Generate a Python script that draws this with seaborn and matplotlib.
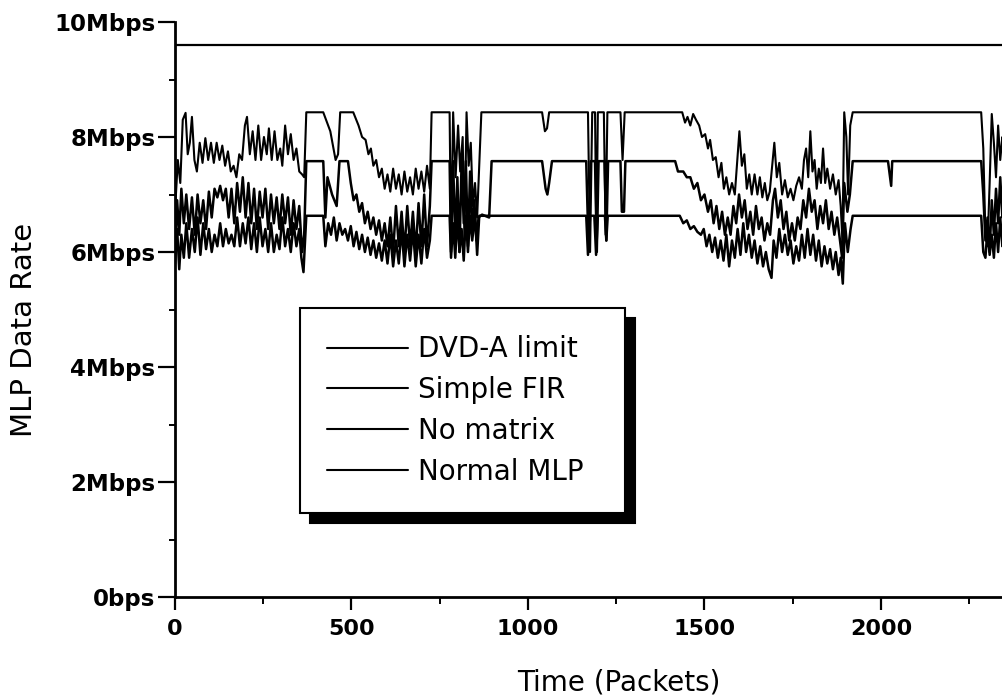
import matplotlib
matplotlib.use("Agg")
import matplotlib.pyplot as plt
import seaborn as sns
import pandas as pd
from matplotlib.ticker import MultipleLocator

# ---------------- data ----------------
dvd_limit = [(0, 9.6), (2352, 9.6)]

simple_fir = [
    (0, 6.7), (8, 7.6), (15, 7.2), (22, 8.3), (30, 8.42), (36, 7.7), (42, 7.9), (48, 8.35),
    (55, 7.6), (62, 7.4), (70, 7.9), (78, 7.55), (86, 7.98), (94, 7.6), (102, 7.9), (110, 7.55),
    (118, 7.9), (126, 7.6), (134, 7.85), (142, 7.5), (150, 7.75), (158, 7.4), (166, 7.5), (174, 7.3),
    (182, 7.7), (190, 7.6), (198, 8.2), (204, 8.35), (212, 7.7), (220, 8.1), (228, 7.6), (236, 8.2),
    (244, 7.6), (252, 8.0), (260, 7.7), (266, 8.15), (274, 7.6), (282, 8.1), (290, 7.6), (298, 7.8),
    (304, 7.5), (312, 8.2), (320, 7.7), (328, 8.05), (336, 7.6), (344, 7.8), (352, 7.4), (360, 7.35),
    (366, 7.3), (372, 8.43),
    (420, 8.43), (440, 8.1), (455, 7.6), (462, 7.7), (468, 8.43), (505, 8.43), (520, 8.2), (530, 8.0),
    (540, 7.95), (548, 7.7), (555, 7.8), (562, 7.5), (570, 7.6), (578, 7.3), (586, 7.45), (594, 7.1),
    (602, 7.35), (610, 7.05), (618, 7.45), (626, 7.1), (634, 7.35), (642, 7.0), (650, 7.4), (658, 7.05),
    (666, 7.3), (674, 7.0), (682, 7.45), (690, 7.1), (698, 7.4), (706, 7.05), (714, 7.5), (722, 7.1),
    (727, 8.43),
    (778, 8.43), (782, 6.1), (788, 8.43), (795, 7.3), (802, 8.2), (808, 7.4), (815, 8.0), (820, 6.2),
    (826, 8.43), (832, 7.5), (838, 7.9), (844, 6.8), (850, 7.2), (856, 6.6), (862, 7.5), (868, 8.43),
    (1040, 8.43), (1048, 8.1), (1054, 8.15), (1060, 8.43),
    (1170, 8.43), (1176, 6.0), (1182, 8.43), (1190, 8.43), (1194, 6.1), (1198, 8.43), (1215, 8.43),
    (1220, 6.3), (1225, 8.43), (1262, 8.43), (1268, 7.6), (1274, 8.43),
    (1437, 8.43), (1445, 8.25), (1452, 8.35), (1460, 8.2), (1468, 8.4), (1476, 8.3), (1485, 8.2),
    (1493, 8.0), (1502, 8.05), (1510, 7.8), (1516, 7.95), (1524, 7.6), (1532, 7.65), (1540, 7.3),
    (1548, 7.55), (1555, 7.1), (1562, 7.3), (1570, 7.0), (1578, 7.2), (1586, 7.0), (1593, 7.6),
    (1599, 8.1), (1606, 7.5), (1613, 7.7), (1620, 7.1), (1627, 7.35), (1634, 7.0), (1642, 7.35),
    (1650, 7.0), (1657, 7.3), (1664, 6.95), (1671, 7.2), (1678, 6.9), (1685, 7.05), (1692, 7.5),
    (1698, 7.9), (1705, 7.3), (1712, 7.55), (1720, 7.0), (1728, 7.25), (1736, 6.95), (1744, 7.1),
    (1752, 6.9), (1760, 7.15), (1768, 7.3), (1776, 7.1), (1782, 7.6), (1788, 7.8), (1794, 7.3),
    (1800, 8.1), (1806, 7.4), (1812, 7.6), (1818, 7.1), (1824, 7.45), (1830, 7.2), (1836, 7.8),
    (1842, 7.2), (1848, 7.45), (1856, 7.1), (1864, 7.35), (1872, 7.0), (1880, 7.25), (1886, 6.8),
    (1891, 6.2), (1896, 8.43), (1902, 8.0), (1907, 7.0), (1913, 8.2), (1920, 8.43),
    (2284, 8.43), (2290, 7.8), (2296, 6.3), (2302, 6.1), (2308, 7.2), (2314, 8.4), (2320, 7.9),
    (2326, 7.3), (2332, 8.2), (2338, 7.6), (2344, 8.0), (2352, 7.7),
]

no_matrix = [
    (0, 6.0), (6, 6.9), (12, 6.3), (18, 7.1), (25, 6.5), (32, 7.0), (40, 6.4), (48, 6.95),
    (56, 6.3), (64, 7.0), (72, 6.5), (80, 6.9), (88, 6.4), (96, 7.05), (104, 6.6), (112, 7.1),
    (120, 6.95), (128, 7.15), (136, 6.9), (144, 7.1), (152, 6.6), (160, 7.1), (168, 6.5), (176, 7.2),
    (184, 6.7), (192, 7.3), (200, 6.6), (208, 7.2), (216, 6.5), (224, 7.1), (232, 6.4), (240, 7.05),
    (248, 6.6), (256, 7.1), (264, 6.4), (272, 7.0), (280, 6.5), (288, 6.95), (296, 6.4), (304, 7.0),
    (312, 6.5), (320, 6.95), (328, 6.3), (336, 6.9), (344, 6.4), (352, 6.8), (360, 6.0), (366, 6.3),
    (372, 7.58),
    (420, 7.58), (426, 6.6), (432, 7.3), (445, 7.0), (458, 6.8), (466, 7.58), (490, 7.58), (498, 7.2),
    (506, 6.9), (514, 7.0), (522, 6.7), (530, 6.85), (538, 6.5), (546, 6.7), (554, 6.4), (562, 6.6),
    (570, 6.3), (578, 6.55), (586, 6.2), (594, 6.5), (602, 6.1), (610, 6.6), (618, 6.0), (626, 6.8),
    (634, 6.1), (642, 6.7), (650, 6.0), (658, 6.8), (666, 6.1), (674, 6.7), (682, 6.0), (690, 6.85),
    (698, 6.1), (706, 7.0), (714, 6.1), (722, 6.8), (727, 7.58),
    (778, 7.58), (782, 6.0), (788, 7.58), (794, 6.2), (800, 7.3), (806, 6.0), (812, 7.58), (818, 6.5),
    (824, 7.58), (830, 6.1), (836, 7.4), (842, 6.3), (848, 6.9), (854, 6.2), (860, 6.6), (870, 6.65),
    (890, 6.6), (897, 7.58),
    (1040, 7.58), (1050, 7.1), (1055, 7.0), (1060, 7.2), (1068, 7.58),
    (1165, 7.58), (1172, 6.0), (1178, 7.58), (1190, 7.58), (1195, 6.0), (1200, 7.58), (1217, 7.58),
    (1222, 6.2), (1227, 7.58), (1262, 7.58), (1266, 6.7), (1272, 6.7), (1276, 7.58),
    (1417, 7.58), (1425, 7.4), (1440, 7.4), (1450, 7.3), (1460, 7.3), (1470, 7.1), (1480, 7.2),
    (1490, 6.9), (1500, 7.0), (1510, 6.7), (1518, 6.9), (1526, 6.5), (1534, 6.8), (1542, 6.4),
    (1550, 6.7), (1558, 6.3), (1566, 6.6), (1574, 6.3), (1582, 6.8), (1590, 6.5), (1598, 7.0),
    (1606, 6.6), (1614, 6.9), (1622, 6.4), (1630, 6.7), (1638, 6.3), (1646, 6.8), (1654, 6.4),
    (1662, 6.6), (1670, 6.2), (1678, 6.5), (1686, 6.3), (1694, 6.9), (1700, 7.1), (1708, 6.6),
    (1716, 6.9), (1724, 6.4), (1732, 6.7), (1740, 6.2), (1748, 6.5), (1756, 6.2), (1764, 6.6),
    (1772, 6.4), (1780, 6.9), (1788, 6.6), (1796, 7.1), (1804, 6.7), (1812, 6.9), (1820, 6.4),
    (1828, 6.8), (1836, 6.5), (1844, 6.9), (1852, 6.4), (1860, 6.7), (1868, 6.3), (1876, 6.6),
    (1884, 6.2), (1890, 5.9), (1896, 7.2), (1905, 6.7), (1912, 7.0), (1920, 7.58),
    (2020, 7.58), (2026, 7.3), (2029, 7.15), (2032, 7.58), (2284, 7.58),
    (2290, 7.0), (2296, 6.2), (2302, 6.6), (2308, 6.0), (2314, 6.9), (2320, 6.3), (2326, 7.1),
    (2332, 6.5), (2338, 7.3), (2344, 6.6), (2352, 6.9),
]

normal_mlp = [
    (0, 5.8), (6, 6.4), (12, 5.7), (18, 6.3), (25, 5.9), (32, 6.5), (40, 5.9), (48, 6.4),
    (56, 6.0), (64, 6.6), (72, 5.95), (80, 6.5), (88, 6.05), (96, 6.4), (104, 6.0), (112, 6.3),
    (120, 6.1), (128, 6.5), (136, 6.1), (144, 6.4), (152, 6.15), (160, 6.3), (168, 6.1), (176, 6.6),
    (184, 6.1), (192, 6.5), (200, 6.15), (208, 6.6), (216, 6.05), (224, 6.5), (232, 6.0), (240, 6.6),
    (248, 6.1), (256, 6.4), (264, 6.0), (272, 6.5), (280, 6.0), (288, 6.3), (296, 6.05), (304, 6.6),
    (312, 6.1), (320, 6.4), (328, 6.0), (336, 6.5), (344, 6.1), (352, 6.4), (358, 5.9), (364, 5.65),
    (372, 6.63),
    (420, 6.63), (426, 6.1), (434, 6.5), (442, 6.3), (450, 6.6), (458, 6.2), (466, 6.5), (474, 6.3),
    (482, 6.4), (490, 6.2), (498, 6.45), (506, 6.1), (514, 6.35), (522, 6.05), (530, 6.3), (538, 6.0),
    (546, 6.25), (554, 5.95), (562, 6.2), (570, 5.9), (578, 6.15), (586, 5.85), (594, 6.2), (602, 5.8),
    (610, 6.3), (618, 5.75), (626, 6.2), (634, 5.8), (642, 6.4), (650, 5.75), (658, 6.3), (666, 5.85),
    (674, 6.4), (682, 5.75), (690, 6.3), (698, 5.8), (706, 6.4), (714, 5.9), (722, 6.2), (727, 6.63),
    (778, 6.63), (782, 5.9), (788, 6.5), (794, 5.9), (800, 6.63), (806, 6.0), (812, 6.4), (818, 5.85),
    (824, 6.63), (830, 6.0), (836, 6.63), (842, 6.2), (850, 6.63), (856, 5.95), (862, 6.63),
    (1165, 6.63), (1170, 5.95), (1176, 6.63), (1188, 6.63), (1193, 5.95), (1198, 6.63), (1218, 6.63),
    (1222, 6.2), (1226, 6.63),
    (1430, 6.63), (1440, 6.5), (1450, 6.55), (1460, 6.4), (1470, 6.45), (1480, 6.35), (1490, 6.3),
    (1498, 6.4), (1506, 6.1), (1514, 6.3), (1522, 6.0), (1530, 6.25), (1538, 5.9), (1546, 6.2),
    (1554, 5.85), (1562, 6.3), (1570, 5.75), (1578, 6.2), (1586, 5.9), (1594, 6.4), (1602, 5.95),
    (1610, 6.5), (1618, 6.0), (1626, 6.3), (1634, 5.9), (1642, 6.2), (1650, 5.8), (1658, 6.1),
    (1666, 5.75), (1674, 6.0), (1682, 5.7), (1690, 5.55), (1696, 6.2), (1704, 5.9), (1712, 6.4),
    (1720, 6.0), (1728, 6.3), (1736, 5.95), (1744, 6.2), (1752, 5.8), (1760, 6.1), (1768, 5.85),
    (1776, 6.3), (1784, 5.9), (1792, 6.4), (1800, 5.95), (1808, 6.3), (1816, 5.85), (1824, 6.2),
    (1832, 5.75), (1840, 6.1), (1848, 5.8), (1856, 6.05), (1864, 5.7), (1872, 6.0), (1880, 5.6),
    (1886, 5.9), (1892, 5.45), (1898, 6.5), (1906, 6.0), (1914, 6.4), (1920, 6.63),
    (2284, 6.63), (2290, 6.0), (2296, 5.9), (2302, 6.4), (2308, 5.95), (2314, 6.3), (2320, 5.9),
    (2326, 6.5), (2332, 6.0), (2338, 6.6), (2344, 6.1), (2352, 6.6),
]

series_names = ["DVD-A limit", "Simple FIR", "No matrix", "Normal MLP"]
series_points = [dvd_limit, simple_fir, no_matrix, normal_mlp]
series_widths = [1.6, 1.5, 1.8, 1.8]

y_ticks = [0, 2, 4, 6, 8, 10]
y_tick_labels = ["0bps", "2Mbps", "4Mbps", "6Mbps", "8Mbps", "10Mbps"]
x_ticks = [0, 500, 1000, 1500, 2000]
x_tick_labels = ["0", "500", "1000", "1500", "2000"]

# ---------------- plotting ----------------
sns.set_style("ticks")
plt.rcParams["font.family"] = ["DejaVu Sans"]
plt.rcParams["text.color"] = "black"
plt.rcParams["axes.labelcolor"] = "black"
plt.rcParams["xtick.color"] = "black"
plt.rcParams["ytick.color"] = "black"

fig = plt.figure(figsize=(10.02, 6.97), dpi=100)
ax = fig.add_axes([175 / 1002, 100 / 697, 827 / 1002, 575 / 697])

frames = []
for name, pts in zip(series_names, series_points):
    frames.append(pd.DataFrame({"packet": [p[0] for p in pts],
                                "rate": [p[1] for p in pts],
                                "series": name}))
df = pd.concat(frames, ignore_index=True)

for name, lw in zip(series_names, series_widths):
    sub = df[df["series"] == name]
    sns.lineplot(data=sub, x="packet", y="rate", ax=ax, color="black",
                 linewidth=lw, estimator=None, sort=False, label=name)

ax.set_xlim(0, 2343)
ax.set_ylim(0, 10)
for s in ["top", "right"]:
    ax.spines[s].set_visible(False)
for s in ["left", "bottom"]:
    ax.spines[s].set_linewidth(2.0)
    ax.spines[s].set_color("black")

ax.set_xticks(x_ticks)
ax.set_xticklabels(x_tick_labels, fontsize=16, fontweight="bold", color="black")
ax.set_yticks(y_ticks)
ax.set_yticklabels(y_tick_labels, fontsize=16.5, fontweight="bold", color="black")
ax.xaxis.set_minor_locator(MultipleLocator(250))
ax.yaxis.set_minor_locator(MultipleLocator(1))
ax.tick_params(axis="x", which="major", direction="out", length=9, width=1.6, pad=7, colors="black")
ax.tick_params(axis="x", which="minor", direction="out", length=5, width=1.4, colors="black")
ax.tick_params(axis="y", which="major", direction="out", length=12, width=1.6, pad=2, colors="black")
ax.tick_params(axis="y", which="minor", direction="out", length=4, width=1.4, colors="black")
ax.set_xlabel("")
ax.set_ylabel("")

fig.text(24 / 1002, 1 - 330 / 697, "MLP Data Rate", rotation=90, ha="center", va="center",
         fontsize=21, color="black")
fig.text(619 / 1002, 1 - 682 / 697, "Time (Packets)", ha="center", va="center",
         fontsize=20, color="black")

handles, labels = ax.get_legend_handles_labels()
leg = ax.legend(handles, labels, loc="upper left",
                bbox_to_anchor=(300 / 1002, (697 - 507) / 697, 325 / 1002, 199 / 697),
                bbox_transform=fig.transFigure, mode="expand", borderaxespad=0,
                fontsize=20, frameon=True, fancybox=False, framealpha=1,
                handlelength=2.9, handletextpad=0.35, labelspacing=0.46, borderpad=0.98,
                labelcolor="black",
                shadow={"ox": 7, "oy": -7, "facecolor": "black", "edgecolor": "black", "alpha": 1})
leg.get_frame().set_edgecolor("black")
leg.get_frame().set_linewidth(1.5)
for h in leg.get_lines():
    h.set_linewidth(1.5)

fig.savefig("out.png", dpi=100)
